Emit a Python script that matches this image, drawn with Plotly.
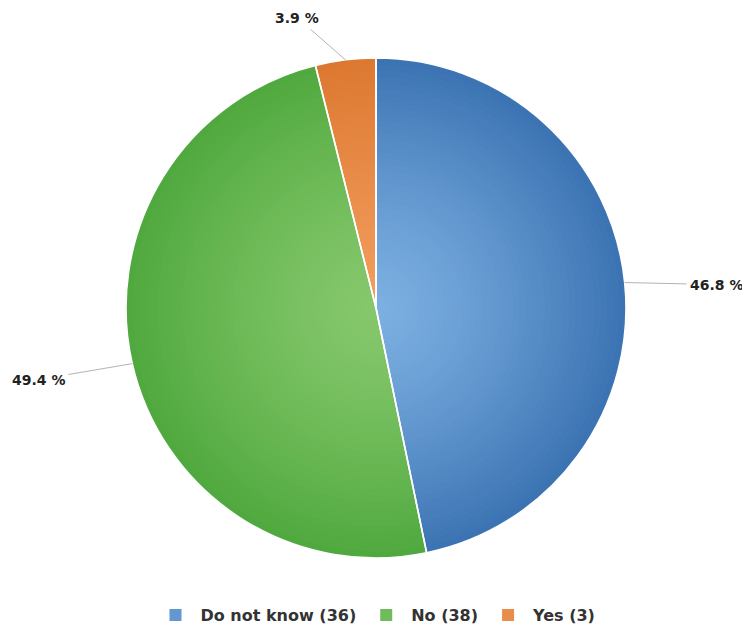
import math
import plotly.graph_objects as go

labels = ["Do not know (36)", "No (38)", "Yes (3)"]
counts = [36, 38, 3]
pct_labels = ["46.8 %", "49.4 %", "3.9 %"]

# gradient colours: centre (light) and rim (dark) per slice
center_colors = [(0x7c, 0xb0, 0xe2), (0x86, 0xc8, 0x6c), (0xf2, 0x9c, 0x5c)]
edge_colors = [(0x3c, 0x73, 0xb2), (0x50, 0xa9, 0x3f), (0xdc, 0x78, 0x30)]

# label offsets (pixels) from slice midpoint on rim
offsets = [(92, 2), (-94, 16), (-48, -42)]

# page body has an 8px margin, so the figure is shifted by 8px on screen
W, H = 750, 630
L, R, T, B = 118, 132, 50, 80
N_LAYERS = 40


def mix(c0, c1, t):
    return "rgb(%d,%d,%d)" % tuple(round(a + (b - a) * t) for a, b in zip(c0, c1))


fig = go.Figure()
legend_layer = N_LAYERS // 2
for i in range(N_LAYERS):
    f = 1.0 - i / N_LAYERS  # radius fraction, outer first
    t = f ** 1.3
    cols = [mix(c, e, t) for c, e in zip(center_colors, edge_colors)]
    fig.add_trace(go.Pie(
        labels=labels, values=counts, sort=False, direction="clockwise", rotation=0,
        marker=dict(colors=cols, line=dict(width=0)),
        textinfo="none", hoverinfo="skip" if i else "label+percent",
        domain=dict(x=[0.5 - f / 2, 0.5 + f / 2], y=[0.5 - f / 2, 0.5 + f / 2]),
        showlegend=(i == legend_layer),
    ))

# white slice separators on top
fig.add_trace(go.Pie(
    labels=labels, values=counts, sort=False, direction="clockwise", rotation=0,
    marker=dict(colors=["rgba(0,0,0,0)"] * 3, line=dict(color="white", width=1.6)),
    textinfo="none", hoverinfo="skip", showlegend=False,
    domain=dict(x=[0, 1], y=[0, 1]),
))

total = sum(counts)
cum = 0
annotations = []
for v, txt, (ax, ay) in zip(counts, pct_labels, offsets):
    mid = (cum + v / 2) / total * 2 * math.pi
    cum += v
    px = 0.5 + 0.5 * math.sin(mid)
    py = 0.5 + 0.5 * math.cos(mid)
    annotations.append(dict(
        x=px, y=py, xref="paper", yref="paper", text="<b>" + txt + "</b>",
        showarrow=True, arrowhead=0, arrowwidth=1, arrowcolor="#b4b4b4",
        ax=ax, ay=ay, font=dict(family="DejaVu Sans", size=14, color="#222222"),
        standoff=0, borderpad=3,
    ))

fig.update_layout(
    width=W, height=H,
    margin=dict(l=L, r=R, t=T, b=B, autoexpand=False),
    paper_bgcolor="white", plot_bgcolor="white",
    showlegend=True,
    legend=dict(orientation="h", x=0.5, xanchor="center", y=-0.114, yanchor="middle",
                font=dict(family="DejaVu Sans", size=16, color="#333333", weight="bold"),
                itemwidth=40, itemclick=False, itemdoubleclick=False),
    annotations=annotations,
)

fig.write_html("out.html")
